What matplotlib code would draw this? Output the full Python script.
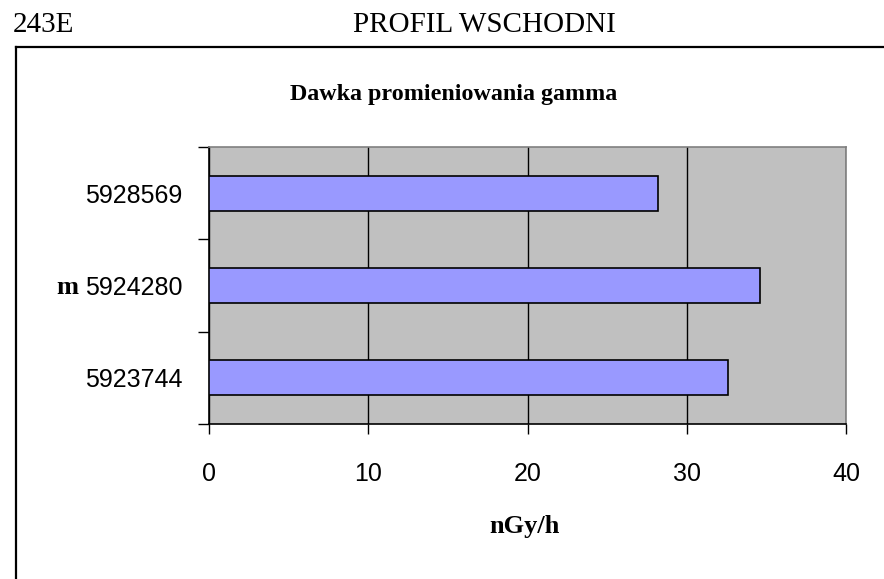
import matplotlib.pyplot as plt
from matplotlib.lines import Line2D
from matplotlib.ticker import FixedLocator, NullFormatter

# Data (bottom to top)
positions = ['5923744', '5924280', '5928569']
dose = [32.6, 34.6, 28.2]
x_ticks = [0, 10, 20, 30, 40]

W, H = 884, 579
fig = plt.figure(figsize=(W / 100, H / 100), dpi=100)
fig.patch.set_facecolor('white')

def fx(px):
    return px / W

def fy(py):
    return 1 - py / H

serif = ['Liberation Serif', 'DejaVu Serif']
sans = ['Liberation Sans', 'DejaVu Sans']

# Page header
fig.text(fx(13), fy(32), '243E', family=serif, fontsize=21, va='baseline', ha='left')
fig.text(fx(353), fy(32), 'PROFIL WSCHODNI', family=serif, fontsize=21, va='baseline', ha='left')

# Chart frame (top and left border)
fig.add_artist(Line2D([fx(16), 1.0], [fy(47), fy(47)], color='black', lw=1.6))
fig.add_artist(Line2D([fx(16), fx(16)], [fy(47), 0.0], color='black', lw=1.6))

# Plot area
ax = fig.add_axes([fx(209), fy(424), fx(846) - fx(209), fy(147) - fy(424)])
ax.set_facecolor('#C0C0C0')
ax.set_axisbelow(True)

y = list(range(len(positions)))
ax.barh(y, dose, height=0.38, color='#9999FF', edgecolor='black', linewidth=1.2, zorder=3)

ax.set_xlim(0, 40)
ax.set_ylim(-0.5, len(positions) - 0.5)

ax.set_xticks(x_ticks)
ax.set_xticklabels([str(t) for t in x_ticks], family=sans, fontsize=18)
ax.tick_params(axis='x', direction='out', length=7.5, width=1, pad=20, color='black')
ax.xaxis.grid(True, color='black', lw=1)

# category labels between tick marks
ax.set_yticks(y)
ax.set_yticklabels(positions, family=sans, fontsize=18)
ax.tick_params(axis='y', which='major', length=0, pad=19)
ax.yaxis.set_minor_locator(FixedLocator([-0.5, 0.5, 1.5, 2.5]))
ax.yaxis.set_minor_formatter(NullFormatter())
ax.tick_params(axis='y', which='minor', direction='out', length=8, width=1, color='black')

for side in ['top', 'right']:
    ax.spines[side].set_color('#808080')
    ax.spines[side].set_linewidth(1.2)
for side in ['left', 'bottom']:
    ax.spines[side].set_color('black')
    ax.spines[side].set_linewidth(1.2)

# Titles and axis captions
fig.text(fx(454), fy(100), 'Dawka promieniowania gamma', family=serif, fontsize=17.3,
         fontweight='bold', ha='center', va='baseline')
fig.text(fx(525), fy(533), 'nGy/h', family=serif, fontsize=19, fontweight='bold',
         ha='center', va='baseline')
fig.text(fx(67), fy(287), 'm', family=serif, fontsize=19, fontweight='bold',
         ha='center', va='center')

fig.savefig('out.png', dpi=100)
